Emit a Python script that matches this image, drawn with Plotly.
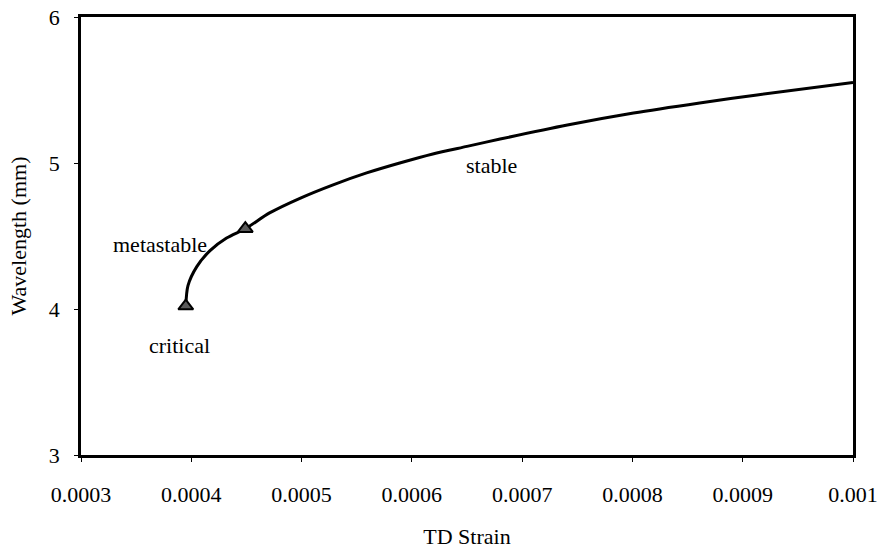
import plotly.graph_objects as go

strain = [0.000395, 0.000397, 0.000405, 0.000417, 0.000432, 0.000449, 0.000471,
          0.000499, 0.000528, 0.000559, 0.000589, 0.000619, 0.000650, 0.000680,
          0.000741, 0.000801, 0.000861, 0.000913, 0.001000]
wavelength = [4.02, 4.16, 4.29, 4.40, 4.486, 4.55, 4.658,
              4.76, 4.849, 4.932, 5.00, 5.062, 5.114, 5.164,
              5.260, 5.342, 5.411, 5.466, 5.552]

marker_x = [0.000395, 0.000449]
marker_y = [4.02, 4.55]

labels = ["critical", "metastable", "stable"]
label_x = [0.000389, 0.0003716, 0.0006718]
label_y = [3.753, 4.445, 4.986]

x_ticks = [0.0003, 0.0004, 0.0005, 0.0006, 0.0007, 0.0008, 0.0009, 0.001]
x_tick_text = ["0.0003", "0.0004", "0.0005", "0.0006", "0.0007", "0.0008", "0.0009", "0.001"]
y_ticks = [3, 4, 5, 6]

font = "Times New Roman, Liberation Serif, DejaVu Serif, serif"

fig = go.Figure()
fig.add_trace(go.Scatter(x=strain, y=wavelength, mode="lines",
                         line=dict(color="black", width=3, shape="spline", smoothing=0.8),
                         showlegend=False, hoverinfo="skip"))
fig.add_trace(go.Scatter(x=marker_x, y=marker_y, mode="markers",
                         marker=dict(symbol="triangle-up", size=13, color="#5a5a5a",
                                     line=dict(color="black", width=2)),
                         showlegend=False))
for t, x, y in zip(labels, label_x, label_y):
    fig.add_annotation(x=x, y=y, text=t, showarrow=False,
                       font=dict(family=font, size=22, color="black"))

fig.update_layout(
    width=883, height=549,
    margin=dict(l=81, r=30, t=17, b=94),
    paper_bgcolor="white", plot_bgcolor="white",
    font=dict(family=font, size=22, color="black"),
)
fig.update_xaxes(range=[0.0003, 0.001], tickvals=x_ticks, ticktext=x_tick_text,
                 showline=True, linecolor="black", linewidth=2.5, mirror=True,
                 ticks="outside", ticklen=4, tickcolor="black", tickwidth=1,
                 ticklabelstandoff=14, automargin=False,
                 tickfont=dict(family=font, size=22),
                 showgrid=False, zeroline=False,
                 title=dict(text="TD Strain", font=dict(family=font, size=22), standoff=26))
fig.update_yaxes(range=[3, 6], tickvals=y_ticks,
                 showline=True, linecolor="black", linewidth=2.5, mirror=True,
                 ticks="outside", ticklen=4, tickcolor="black", tickwidth=1,
                 ticklabelstandoff=10, automargin=False,
                 tickfont=dict(family=font, size=22),
                 showgrid=False, zeroline=False,
                 title=dict(text="Wavelength (mm)", font=dict(family=font, size=22), standoff=17))

fig.write_html("out.html")
